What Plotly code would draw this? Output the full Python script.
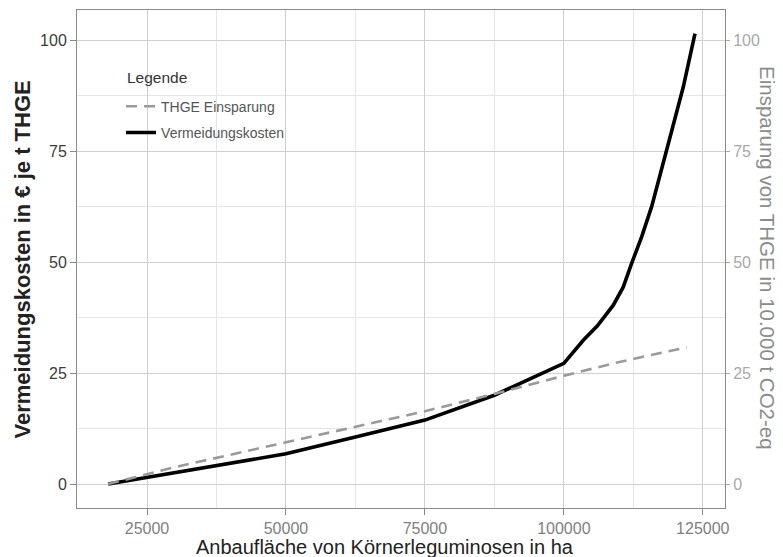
import plotly.graph_objects as go

# Data
x_cost = [18000, 25000, 37500, 50000, 62500, 75000, 87500, 100000, 103500, 106000,
          108900, 110700, 112200, 114000, 115800, 117600, 119500, 121500, 123600]
y_cost = [0, 1.5, 4.2, 6.8, 10.6, 14.4, 20.0, 27.2, 32.4, 35.6,
          40.3, 44.4, 49.7, 55.7, 62.5, 70.7, 80.0, 89.5, 101.5]

x_save = [18000, 30000, 50000, 75000, 87500, 100000, 110000, 122100]
y_save = [0, 3.8, 9.4, 16.4, 20.3, 24.4, 27.5, 30.8]

x_ticks = [25000, 50000, 75000, 100000, 125000]
y_ticks = [0, 25, 50, 75, 100]

FONT = "Liberation Sans, Arial, sans-serif"
xr = [12400, 129000]
yr = [-5.4, 106.8]

fig = go.Figure()
fig.add_trace(go.Scatter(
    x=x_save, y=y_save, mode="lines", name="THGE Einsparung", yaxis="y2",
    legendgroup="a",
    line=dict(color="#9a9a9a", width=2.6, dash="11px,7px")))
fig.add_trace(go.Scatter(
    x=x_cost, y=y_cost, mode="lines", name="Vermeidungskosten",
    legendgroup="b",
    line=dict(color="#000000", width=3.6)))

fig.update_layout(
    width=775, height=549,
    margin=dict(l=69, r=58, t=2, b=49),
    paper_bgcolor="white", plot_bgcolor="white",
    font=dict(family=FONT, color="#333"),
    showlegend=True,
    legend=dict(
        x=0.068, y=0.838, xanchor="left", yanchor="top",
        bgcolor="rgba(0,0,0,0)", borderwidth=0,
        font=dict(size=14, color="#555"),
        itemwidth=30,
        tracegroupgap=5,
    ),
    xaxis=dict(
        range=xr, tickvals=x_ticks, ticktext=[str(v) for v in x_ticks],
        automargin=False,
        showgrid=True, gridcolor="#cfcfcf", gridwidth=1,
        minor=dict(tickvals=[37500, 62500, 87500, 112500], showgrid=True, gridcolor="#e6e6e6", gridwidth=1),
        ticks="outside", ticklen=6, tickcolor="#8a8a8a",
        tickfont=dict(size=16, color="#808080"),
        showline=True, linecolor="#8a8a8a", linewidth=1, mirror=True,
        zeroline=False,
    ),
    yaxis=dict(
        range=yr, tickvals=y_ticks,
        automargin=False,
        showgrid=True, gridcolor="#cfcfcf", gridwidth=1,
        minor=dict(tickvals=[12.5, 37.5, 62.5, 87.5], showgrid=True, gridcolor="#e6e6e6", gridwidth=1),
        ticks="outside", ticklen=6, tickcolor="#8a8a8a",
        tickfont=dict(size=16, color="#3c3c3c"),
        showline=True, linecolor="#8a8a8a", linewidth=1, mirror=True,
        zeroline=False,
    ),
    yaxis2=dict(
        range=yr, tickvals=y_ticks, overlaying="y", side="right",
        automargin=False,
        showgrid=False, zeroline=False,
        ticks="outside", ticklen=4, tickcolor="#a8a8a8",
        tickfont=dict(size=16, color="#a8a8a8"),
    ),
    shapes=[dict(
        type="rect", xref="paper", yref="paper",
        x0=0.0586, x1=0.333, y0=0.725, y1=0.9,
        fillcolor="white", line=dict(width=0), layer="below",
    )],
)

# legend title
fig.add_annotation(
    text="Legende", xref="paper", yref="paper", x=0.074, y=0.865,
    xanchor="left", yanchor="middle", showarrow=False,
    font=dict(size=15.5, color="#333", family=FONT),
)

# x axis title
fig.add_annotation(
    text="Anbaufläche von Körnerleguminosen in ha",
    xref="paper", yref="paper", x=0.476, y=0, yshift=-39,
    xanchor="center", yanchor="middle", showarrow=False,
    font=dict(size=20, color="#222", family=FONT),
)

# left y axis title
fig.add_annotation(
    text="<b>Vermeidungskosten in € je t THGE</b>",
    xref="paper", yref="paper", x=0, y=0.498, xshift=-54.5,
    xanchor="center", yanchor="middle", textangle=-90, showarrow=False,
    font=dict(size=22, color="#222", family=FONT),
)

# right y axis title
fig.add_annotation(
    text="Einsparung von THGE in 10.000 t CO2-eq",
    xref="paper", yref="paper", x=1.0, y=0.502, xshift=43,
    xanchor="center", yanchor="middle", textangle=90, showarrow=False,
    font=dict(size=20.5, color="#8c8c8c", family=FONT),
)

fig.write_html("out.html")
